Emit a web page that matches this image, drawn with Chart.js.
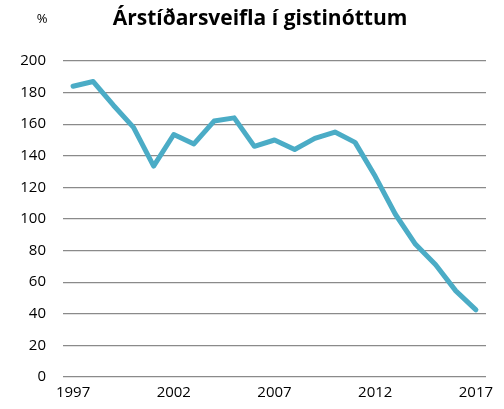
<!DOCTYPE html>
<html>
<head>
<meta charset="utf-8">
<script src="https://cdn.jsdelivr.net/npm/chart.js@4/dist/chart.umd.min.js"></script>
<style>
  html, body { margin: 0; padding: 0; background: #fff; }
  #wrap { width: 504px; height: 409px; }
</style>
</head>
<body>
<div id="wrap"><canvas id="chart" width="504" height="409"></canvas></div>
<script>
// Data
const years = ['1997', '1998', '1999', '2000', '2001', '2002', '2003', '2004', '2005', '2006',
               '2007', '2008', '2009', '2010', '2011', '2012', '2013', '2014', '2015', '2016', '2017'];
const seasonality = [184, 187, 172, 158, 133.5, 153.5, 147.5, 162, 164, 146,
                     150, 144, 151, 155, 148.5, 127, 103, 84, 71, 54.5, 42.5];
const yTicks = [0, 20, 40, 60, 80, 100, 120, 140, 160, 180, 200];
const shownYears = ['1997', '2002', '2007', '2012', '2017'];

const titleText = 'Árstíðarsveifla í gistinóttum';
const unitText = '%';
const fontFamily = '"Open Sans", "Liberation Sans", sans-serif';

// draws the title and the unit label at the top
const headerPlugin = {
  id: 'header',
  afterDraw(chart) {
    const ctx = chart.ctx;
    ctx.save();
    ctx.fillStyle = '#000';
    ctx.textBaseline = 'alphabetic';
    ctx.textAlign = 'center';
    ctx.font = 'bold 21px ' + fontFamily;
    ctx.fillText(titleText, 260, 25);
    ctx.font = '13px ' + fontFamily;
    ctx.fillText(unitText, 42, 23);
    ctx.restore();
  }
};

const ctx = document.getElementById('chart').getContext('2d');
const chart = new Chart(ctx, {
  type: 'line',
  data: {
    labels: years,
    datasets: [{
      label: titleText,
      data: seasonality,
      borderColor: '#4BACC6',
      backgroundColor: '#4BACC6',
      borderWidth: 5,
      borderJoinStyle: 'round',
      borderCapStyle: 'round',
      pointRadius: 0,
      tension: 0,
      fill: false
    }]
  },
  options: {
    responsive: false,
    animation: false,
    layout: { padding: { top: 61, right: 18, bottom: 0, left: 0 } },
    plugins: {
      legend: { display: false },
      title: { display: false },
      tooltip: { enabled: false }
    },
    scales: {
      x: {
        type: 'category',
        offset: true,
        grid: { display: false, drawTicks: false },
        border: { display: false },
        afterFit: s => { s.height = 32; },
        ticks: {
          autoSkip: false,
          maxRotation: 0,
          padding: 7,
          color: '#000',
          font: { family: fontFamily, size: 15 },
          callback: function(value) {
            const lbl = this.getLabelForValue(value);
            return shownYears.includes(lbl) ? lbl : '';
          }
        }
      },
      y: {
        min: 0,
        max: 200,
        afterBuildTicks: s => { s.ticks = yTicks.map(v => ({ value: v })); },
        afterFit: s => { s.width = 63; },
        grid: { color: '#8a8a8a', lineWidth: 1.3, drawTicks: false },
        border: { display: false },
        ticks: {
          padding: 17,
          color: '#000',
          font: { family: fontFamily, size: 15 }
        }
      }
    }
  },
  plugins: [headerPlugin]
});
</script>
</body>
</html>
